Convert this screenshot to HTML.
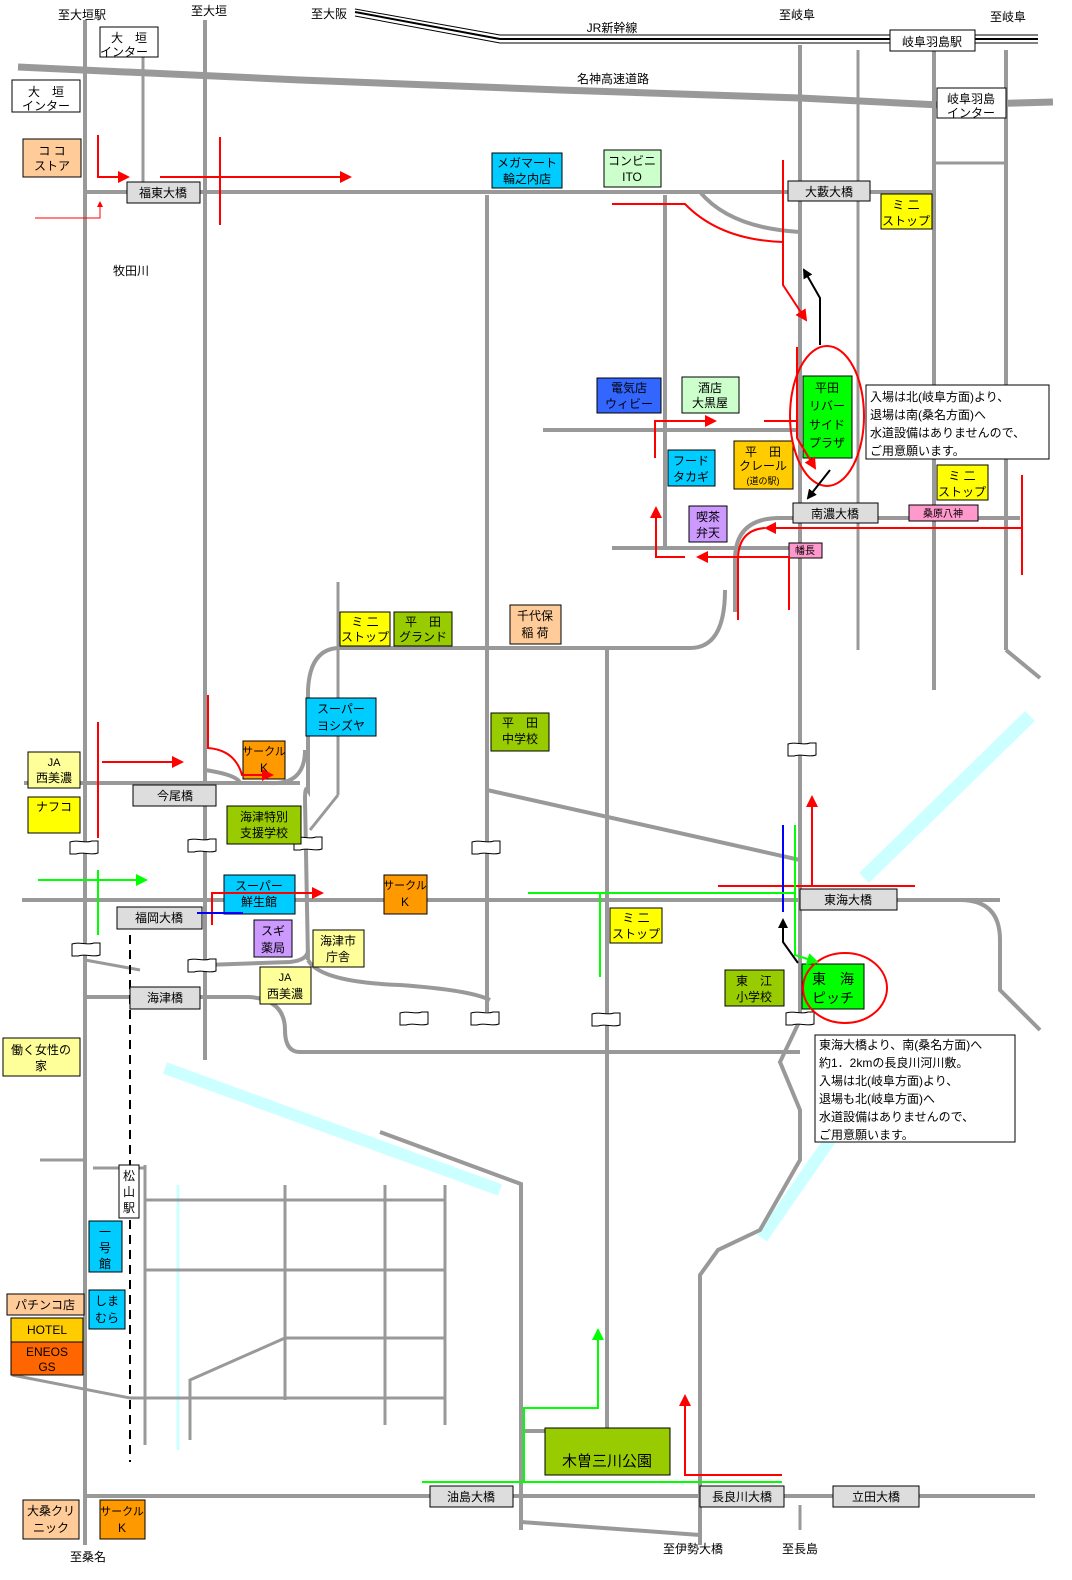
<!DOCTYPE html>
<html><head><meta charset="utf-8"><style>
html,body{margin:0;padding:0;background:#fff;}
svg{display:block;font-family:"Liberation Sans","Noto Sans CJK JP",sans-serif;}
text{stroke:none;fill:#000;font-weight:normal;}
</style></head><body>
<svg width="1072" height="1580" viewBox="0 0 1072 1580" xmlns="http://www.w3.org/2000/svg">
<defs>
<marker id="ar" markerWidth="6" markerHeight="6" refX="5" refY="3" orient="auto" markerUnits="strokeWidth"><path d="M0,0 L6,3 L0,6 z" fill="#f00"/></marker>
<marker id="ag" markerWidth="6" markerHeight="6" refX="5" refY="3" orient="auto" markerUnits="strokeWidth"><path d="M0,0 L6,3 L0,6 z" fill="#0f0"/></marker>
<marker id="ak" markerWidth="5" markerHeight="5" refX="4" refY="2.5" orient="auto" markerUnits="strokeWidth"><path d="M0,0 L5,2.5 L0,5 z" fill="#000"/></marker>
<g id="br"><path d="M0,2 C8,-1 14,4 22,1 L28,1 L28,13 C20,16 14,11 6,14 L0,14 Z" fill="#fff" stroke="#000" stroke-width="1"/></g>
</defs>

<g stroke="#ccffff" fill="none" stroke-linecap="butt">
<line x1="864" y1="878" x2="1030" y2="716" stroke-width="14"/>
<line x1="762" y1="1238" x2="830" y2="1140" stroke-width="12"/>
<line x1="165" y1="1068" x2="500" y2="1190" stroke-width="12"/>
<line x1="178" y1="1185" x2="178" y2="1450" stroke-width="3"/>
</g>

<polyline points="18,67 300,80 560,90 800,98 940,105 1053,102" fill="none" stroke="#999" stroke-width="7"/>

<g stroke="#000" fill="none">
<polyline points="355,9 500,35 1038,35" stroke-width="1"/>
<polyline points="355,12 500,39 1038,39" stroke-width="2"/>
<polyline points="355,16 500,43 1038,43" stroke-width="1"/>
</g>

<g stroke="#999" fill="none" stroke-width="4">
<line x1="85" y1="20" x2="85" y2="1545"/>
<line x1="205" y1="20" x2="205" y2="1060"/>
<line x1="487" y1="195" x2="487" y2="1012"/>
<line x1="665" y1="195" x2="665" y2="548"/>
<line x1="800" y1="45" x2="800" y2="1020"/>
<polyline points="800,1020 780,1062 800,1110 800,1160 760,1230 718,1250 700,1275 700,1545"/>
<line x1="1006" y1="50" x2="1006" y2="650"/>
<line x1="1006" y1="650" x2="1040" y2="678"/>
<line x1="934" y1="50" x2="934" y2="690"/>
<line x1="85" y1="192" x2="934" y2="192"/>
<path d="M700,192 Q730,228 800,232"/>
<line x1="543" y1="430" x2="800" y2="430"/>
<path d="M1020,518 L780,518 Q735,518 735,560 L735,612"/>
<line x1="612" y1="548" x2="790" y2="548"/>
<path d="M725,590 Q725,648 690,648 L340,648 Q310,648 308,690 L308,790 Q305,785 305,800 L308,960"/>
<line x1="24" y1="783" x2="300" y2="783"/>
<path d="M205,770 Q238,775 240,783"/>
<path d="M270,783 Q305,785 305,750"/>
<line x1="22" y1="900" x2="1000" y2="900"/>
<path d="M960,900 Q1000,900 1000,940 L1000,990 L1040,1030"/>
<line x1="85" y1="997" x2="250" y2="997"/>
<path d="M250,997 Q285,1000 285,1030 Q285,1052 300,1052 L800,1052"/>
<path d="M308,950 Q308,960 290,962 L205,965"/>
<path d="M308,960 Q320,982 400,985 Q470,990 490,1000"/>
<line x1="487" y1="790" x2="800" y2="860"/>
<line x1="85" y1="1496" x2="1035" y2="1496"/>
<line x1="607" y1="650" x2="607" y2="1431"/>
<line x1="521" y1="1431" x2="607" y2="1431"/>
<polyline points="380,1132 521,1184 521,1530"/>
<line x1="521" y1="1522" x2="700" y2="1535"/>
</g>
<g stroke="#999" fill="none" stroke-width="3">
<line x1="858" y1="50" x2="858" y2="650"/>
<line x1="143" y1="45" x2="143" y2="185"/>
<line x1="934" y1="163" x2="1006" y2="163"/>
<line x1="338" y1="582" x2="338" y2="795"/>
<line x1="338" y1="795" x2="310" y2="830"/>
<line x1="145" y1="1165" x2="145" y2="1445"/>
<line x1="40" y1="1160" x2="85" y2="1160"/>
<line x1="93" y1="1168" x2="145" y2="1168"/>
<line x1="285" y1="1185" x2="285" y2="1400"/>
<line x1="385" y1="1185" x2="385" y2="1425"/>
<line x1="445" y1="1185" x2="445" y2="1425"/>
<line x1="145" y1="1200" x2="445" y2="1200"/>
<line x1="145" y1="1270" x2="445" y2="1270"/>
<line x1="285" y1="1338" x2="445" y2="1338"/>
<line x1="130" y1="1398" x2="445" y2="1398"/>
<polyline points="285,1338 190,1380 190,1440"/>
<line x1="12" y1="1375" x2="130" y2="1398"/>
<line x1="800" y1="1505" x2="800" y2="1530"/>
<line x1="85" y1="960" x2="140" y2="970"/>
</g>
<line x1="130" y1="935" x2="130" y2="1462" stroke="#000" stroke-width="2" stroke-dasharray="9,6"/>

<g>
<use href="#br" x="70" y="840"/><use href="#br" x="188" y="838"/><use href="#br" x="294" y="836"/>
<use href="#br" x="472" y="840"/><use href="#br" x="788" y="742"/><use href="#br" x="72" y="942"/>
<use href="#br" x="188" y="958"/><use href="#br" x="400" y="1011"/><use href="#br" x="471" y="1011"/>
<use href="#br" x="592" y="1012"/><use href="#br" x="786" y="1011"/>
</g>

<g stroke="#000" stroke-width="1" font-size="12" text-anchor="middle">
<rect x="100" y="27" width="58" height="30" fill="#fff"/>
<text x="129" y="42">大　垣</text><text x="124" y="56">インター</text>
<rect x="12" y="80" width="68" height="32" fill="#fff"/>
<text x="46" y="96">大　垣</text><text x="46" y="110">インター</text>
<rect x="23" y="139" width="58" height="38" fill="#ffcc99"/>
<text x="52" y="155">コ コ</text><text x="52" y="170">ストア</text>
<rect x="127" y="182" width="73" height="21" fill="#ddd"/><text x="163" y="197">福東大橋</text>
<rect x="492" y="153" width="70" height="35" fill="#00ccff"/><text x="527" y="167">メガマート</text><text x="527" y="183">輪之内店</text>
<rect x="604" y="150" width="57" height="37" fill="#ccffcc"/><text x="632" y="165">コンビニ</text><text x="632" y="181">ITO</text>
<rect x="788" y="181" width="82" height="20" fill="#ddd"/><text x="829" y="196">大藪大橋</text>
<rect x="881" y="194" width="51" height="35" fill="#ff0"/><text x="906" y="209">ミ 二</text><text x="906" y="225">ストップ</text>
<rect x="937" y="88" width="69" height="30" fill="#fff"/><text x="971" y="103">岐阜羽島</text><text x="971" y="117">インター</text>
<rect x="890" y="30" width="85" height="21" fill="#fff"/><text x="932" y="46">岐阜羽島駅</text>
<rect x="597" y="378" width="64" height="35" fill="#3366ff"/><text x="629" y="392">電気店</text><text x="629" y="408">ウィビー</text>
<rect x="682" y="377" width="57" height="36" fill="#ccffcc"/><text x="710" y="392">酒店</text><text x="710" y="407">大黒屋</text>
<rect x="803" y="376" width="49" height="82" fill="#00ff00"/>
<text x="827" y="392">平田</text><text x="827" y="410">リバー</text><text x="827" y="429">サイド</text><text x="827" y="447">プラザ</text>
<rect x="866" y="385" width="183" height="74" fill="#fff"/>
<g text-anchor="start"><text x="870" y="401">入場は北(岐阜方面)より、</text><text x="870" y="419">退場は南(桑名方面)へ</text><text x="870" y="437">水道設備はありませんので、</text><text x="870" y="455">ご用意願います。</text></g>
<rect x="937" y="465" width="51" height="35" fill="#ff0"/><text x="962" y="480">ミ 二</text><text x="962" y="496">ストップ</text>
<rect x="668" y="450" width="47" height="36" fill="#00ccff"/><text x="691" y="465">フード</text><text x="691" y="481">タカギ</text>
<rect x="734" y="441" width="59" height="48" fill="#ffcc00"/><text x="763" y="456">平　田</text><text x="763" y="470">クレール</text><text x="763" y="484" font-size="9">(道の駅)</text>
<rect x="793" y="503" width="85" height="20" fill="#ddd"/><text x="835" y="518">南濃大橋</text>
<rect x="909" y="505" width="69" height="16" fill="#ff99cc"/><text x="943" y="517" font-size="10">桑原八神</text>
<rect x="689" y="506" width="38" height="36" fill="#cc99ff"/><text x="708" y="521">喫茶</text><text x="708" y="537">弁天</text>
<rect x="789" y="543" width="33" height="15" fill="#ff99cc"/><text x="805" y="554" font-size="10">幡長</text>
<rect x="340" y="612" width="50" height="34" fill="#ff0"/><text x="365" y="626">ミ 二</text><text x="365" y="641">ストップ</text>
<rect x="394" y="612" width="58" height="34" fill="#99cc00"/><text x="423" y="626">平　田</text><text x="423" y="641">グランド</text>
<rect x="510" y="605" width="51" height="39" fill="#ffcc99"/><text x="535" y="620">千代保</text><text x="535" y="637">稲 荷</text>
<rect x="306" y="698" width="70" height="38" fill="#00ccff"/><text x="341" y="713">スーパー</text><text x="341" y="730">ヨシズヤ</text>
<rect x="491" y="713" width="58" height="38" fill="#99cc00"/><text x="520" y="727">平　田</text><text x="520" y="743">中学校</text>
<rect x="243" y="741" width="42" height="38" fill="#ff9900"/><text x="264" y="755" font-size="11">サークル</text><text x="264" y="772">K</text>
<rect x="28" y="752" width="52" height="36" fill="#ffff99"/><text x="54" y="766" font-size="11">JA</text><text x="54" y="782">西美濃</text>
<rect x="28" y="797" width="52" height="36" fill="#ff0"/><text x="54" y="811">ナフコ</text>
<rect x="133" y="785" width="83" height="21" fill="#ddd"/><text x="175" y="800">今尾橋</text>
<rect x="227" y="806" width="74" height="38" fill="#99cc00"/><text x="264" y="821">海津特別</text><text x="264" y="837">支援学校</text>
<rect x="224" y="875" width="71" height="39" fill="#00ccff"/><text x="259" y="890">スーパー</text><text x="259" y="906">鮮生館</text>
<rect x="384" y="875" width="43" height="39" fill="#ff9900"/><text x="405" y="889" font-size="11">サークル</text><text x="405" y="906">K</text>
<rect x="117" y="907" width="85" height="22" fill="#ddd"/><text x="159" y="922">福岡大橋</text>
<rect x="254" y="920" width="38" height="37" fill="#cc99ff"/><text x="273" y="935">スギ</text><text x="273" y="952">薬局</text>
<rect x="313" y="930" width="51" height="37" fill="#ffff99"/><text x="338" y="945">海津市</text><text x="338" y="961">庁舎</text>
<rect x="260" y="967" width="51" height="37" fill="#ffff99"/><text x="285" y="981" font-size="11">JA</text><text x="285" y="998">西美濃</text>
<rect x="130" y="987" width="70" height="22" fill="#ddd"/><text x="165" y="1002">海津橋</text>
<rect x="610" y="908" width="52" height="35" fill="#ff0"/><text x="636" y="922">ミ 二</text><text x="636" y="938">ストップ</text>
<rect x="800" y="889" width="97" height="21" fill="#ddd"/><text x="848" y="904">東海大橋</text>
<rect x="725" y="970" width="59" height="36" fill="#99cc00"/><text x="754" y="985">東　江</text><text x="754" y="1001">小学校</text>
<rect x="802" y="964" width="62" height="45" fill="#00ff00"/><text x="833" y="984" font-size="14">東　海</text><text x="833" y="1003" font-size="14">ピッチ</text>
<rect x="815" y="1035" width="200" height="107" fill="#fff"/>
<g text-anchor="start"><text x="819" y="1049">東海大橋より、南(桑名方面)へ</text><text x="819" y="1067">約1．2kmの長良川河川敷。</text><text x="819" y="1085">入場は北(岐阜方面)より、</text><text x="819" y="1103">退場も北(岐阜方面)へ</text><text x="819" y="1121">水道設備はありませんので、</text><text x="819" y="1139">ご用意願います。</text></g>
<rect x="3" y="1038" width="77" height="38" fill="#ffff99"/><text x="41" y="1054">働く女性の</text><text x="41" y="1070">家</text>
<rect x="119" y="1165" width="20" height="53" fill="#fff"/><text x="129" y="1180">松</text><text x="129" y="1196">山</text><text x="129" y="1212">駅</text>
<rect x="89" y="1221" width="33" height="51" fill="#00ccff"/><text x="105" y="1236">一</text><text x="105" y="1252">号</text><text x="105" y="1268">館</text>
<rect x="89" y="1290" width="36" height="39" fill="#00ccff"/><text x="107" y="1305">しま</text><text x="107" y="1322">むら</text>
<rect x="7" y="1294" width="77" height="21" fill="#ffcc99"/><text x="45" y="1309">パチンコ店</text>
<rect x="11" y="1318" width="72" height="24" fill="#ffcc00"/><text x="47" y="1334">HOTEL</text>
<rect x="11" y="1342" width="72" height="33" fill="#ff6600"/><text x="47" y="1356">ENEOS</text><text x="47" y="1371">GS</text>
<rect x="545" y="1428" width="125" height="47" fill="#99cc00"/><text x="607" y="1466" font-size="15">木曽三川公園</text>
<rect x="430" y="1486" width="83" height="21" fill="#ddd"/><text x="471" y="1501">油島大橋</text>
<rect x="700" y="1486" width="84" height="21" fill="#ddd"/><text x="742" y="1501">長良川大橋</text>
<rect x="833" y="1486" width="86" height="21" fill="#ddd"/><text x="876" y="1501">立田大橋</text>
<rect x="23" y="1500" width="56" height="39" fill="#ffcc99"/><text x="51" y="1515">大桑クリ</text><text x="51" y="1532">ニック</text>
<rect x="100" y="1500" width="45" height="39" fill="#ff9900"/><text x="122" y="1515" font-size="11">サークル</text><text x="122" y="1532">K</text>
</g>

<g font-size="12" text-anchor="middle">
<text x="82" y="19">至大垣駅</text><text x="209" y="15">至大垣</text><text x="329" y="18">至大阪</text>
<text x="612" y="32">JR新幹線</text><text x="797" y="19">至岐阜</text><text x="1008" y="21">至岐阜</text>
<text x="613" y="83">名神高速道路</text><text x="131" y="275">牧田川</text>
<text x="88" y="1561">至桑名</text><text x="693" y="1553">至伊勢大橋</text><text x="800" y="1553">至長島</text>
</g>

<g stroke="#f00" fill="none" stroke-width="2">
<polyline points="98,135 98,177 128,177" marker-end="url(#ar)"/>
<line x1="160" y1="177" x2="350" y2="177" marker-end="url(#ar)"/>
<line x1="220" y1="137" x2="220" y2="225"/>
<polyline points="35,218 100,218 100,202" stroke-width="1" marker-end="url(#ar)"/>
<path d="M612,204 L685,204 Q720,240 783,242"/>
<polyline points="783,160 783,285 806,320" marker-end="url(#ar)"/>
<ellipse cx="827" cy="416" rx="37" ry="70"/>
<line x1="764" y1="421" x2="797" y2="421"/>
<polyline points="797,347 797,438 815,468" marker-end="url(#ar)"/>
<polyline points="655,458 655,421 715,421" marker-end="url(#ar)"/>
<line x1="1022" y1="475" x2="1022" y2="575"/>
<line x1="1022" y1="528" x2="766" y2="528" marker-end="url(#ar)"/>
<path d="M765,528 Q738,530 738,560 L738,620"/>
<polyline points="789,610 789,557 698,557" marker-end="url(#ar)"/>
<polyline points="685,557 656,557 656,508" marker-end="url(#ar)"/>
<line x1="98" y1="722" x2="98" y2="838"/>
<line x1="102" y1="762" x2="182" y2="762" marker-end="url(#ar)"/>
<path d="M208,695 L208,748 Q235,750 242,775 L272,775" marker-end="url(#ar)"/>
<polyline points="212,925 212,893 322,893" marker-end="url(#ar)"/>
<line x1="718" y1="886" x2="915" y2="886"/>
<line x1="812" y1="886" x2="812" y2="797" marker-end="url(#ar)"/>
<ellipse cx="845" cy="988" rx="42" ry="35"/>
<polyline points="782,1475 685,1475 685,1396" marker-end="url(#ar)"/>
</g>
<line x1="197" y1="913" x2="243" y2="913" stroke="#00f" stroke-width="2"/>
<line x1="783" y1="825" x2="783" y2="912" stroke="#00f" stroke-width="2"/>

<g stroke="#0f0" fill="none" stroke-width="2">
<line x1="38" y1="880" x2="146" y2="880" marker-end="url(#ag)"/>
<line x1="98" y1="870" x2="98" y2="935"/>
<polyline points="795,825 795,955 817,962" marker-end="url(#ag)"/>
<line x1="528" y1="893" x2="795" y2="893"/>
<line x1="600" y1="893" x2="600" y2="977"/>
<line x1="422" y1="1482" x2="782" y2="1482"/>
<polyline points="524,1482 524,1408 598,1408 598,1330" marker-end="url(#ag)"/>
</g>

<g stroke="#000" fill="none" stroke-width="2">
<polyline points="820,345 820,298 804,270" marker-end="url(#ak)"/>
<line x1="830" y1="470" x2="808" y2="498" marker-end="url(#ak)"/>
<polyline points="798,963 783,942 783,920" marker-end="url(#ak)"/>
</g>
</svg>
</body></html>
